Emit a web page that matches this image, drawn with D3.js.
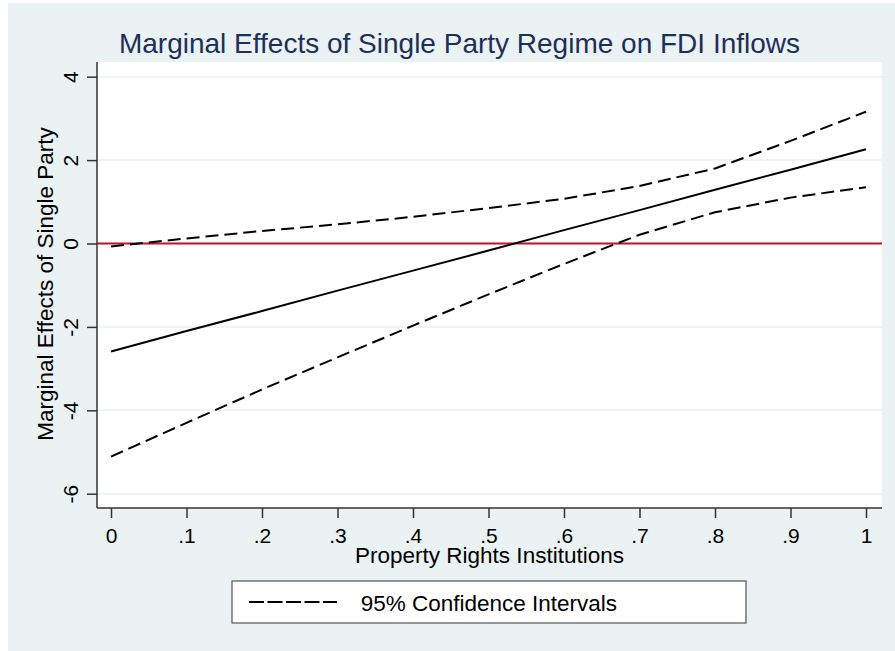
<!DOCTYPE html>
<html>
<head>
<meta charset="utf-8">
<script src="https://cdn.jsdelivr.net/npm/d3@7"></script>
<style>
  body { margin: 0; background: #ffffff; }
  svg { display: block; font-family: "Liberation Sans", Arial, sans-serif; }
</style>
</head>
<body>
<div id="chart"></div>
<script>
// data
const xPoints = [0, .1, .2, .3, .4, .5, .6, .7, .8, .9, 1];
const marginalEffect = [-2.59, -2.10, -1.62, -1.13, -0.65, -0.17, 0.32, 0.80, 1.29, 1.77, 2.26];
const upperCI = [-0.07, 0.12, 0.30, 0.46, 0.64, 0.85, 1.07, 1.38, 1.80, 2.46, 3.16];
const lowerCI = [-5.11, -4.30, -3.50, -2.73, -1.97, -1.22, -0.49, 0.21, 0.75, 1.10, 1.35];
const xTickLabels = ["0", ".1", ".2", ".3", ".4", ".5", ".6", ".7", ".8", ".9", "1"];
const yTicks = [-6, -4, -2, 0, 2, 4];
const yTickLabels = ["-6", "-4", "-2", "0", "2", "4"];

const width = 895;
const height = 651;
const plot = { left: 97, right: 882, top: 62, bottom: 508 };

var svg = d3.select("#chart")
    .append("svg")
    .attr("width", width)
    .attr("height", height);

// graph background
svg.append("rect")
    .attr("x", 8).attr("y", 3)
    .attr("width", width - 8).attr("height", height - 3)
    .style("fill", "#eaf2f3");

// plot region
svg.append("rect")
    .attr("x", plot.left).attr("y", plot.top)
    .attr("width", plot.right - plot.left).attr("height", plot.bottom - plot.top)
    .style("fill", "#ffffff");

var x = d3.scaleLinear().domain([0, 1]).range([111, 866]);
var y = d3.scaleLinear().domain([-6, 4]).range([493.7, 76.7]);

// gridlines
svg.selectAll(".grid")
    .data(yTicks)
    .enter().append("line")
    .attr("class", "grid")
    .attr("x1", plot.left).attr("x2", plot.right)
    .attr("y1", d => y(d)).attr("y2", d => y(d))
    .style("stroke", "#eaf2f3")
    .style("stroke-width", 1.5);

// zero reference line
svg.append("line")
    .attr("x1", plot.left).attr("x2", plot.right)
    .attr("y1", y(0)).attr("y2", y(0))
    .style("stroke", "#c8102e")
    .style("stroke-width", 2);

var line = d3.line()
    .x((d, i) => x(xPoints[i]))
    .y(d => y(d));

svg.append("path")
    .attr("d", line(marginalEffect))
    .style("fill", "none")
    .style("stroke", "#000")
    .style("stroke-width", 2);

[upperCI, lowerCI].forEach(function(s) {
    svg.append("path")
        .attr("d", line(s))
        .style("fill", "none")
        .style("stroke", "#000")
        .style("stroke-width", 2)
        .style("stroke-dasharray", "13,6");
});

// y axis
var yAxis = svg.append("g")
    .attr("transform", "translate(" + plot.left + ",0)")
    .call(d3.axisLeft(y).tickValues(yTicks).tickSize(10).tickFormat((d, i) => yTickLabels[i]));
yAxis.select(".domain").remove();
yAxis.selectAll("line").style("stroke", "#333").style("stroke-width", 1.5);
yAxis.selectAll("text")
    .attr("transform", "rotate(-90)")
    .attr("x", 0).attr("y", -19).attr("dy", 0)
    .style("text-anchor", "middle")
    .style("font-size", "21px")
    .style("fill", "#000");

// x axis
var xAxis = svg.append("g")
    .attr("transform", "translate(0," + plot.bottom + ")")
    .call(d3.axisBottom(x).tickValues(xPoints).tickSize(10).tickFormat((d, i) => xTickLabels[i]));
xAxis.select(".domain").remove();
xAxis.selectAll("line").style("stroke", "#333").style("stroke-width", 1.5);
xAxis.selectAll("text")
    .attr("y", 34.5).attr("dy", 0)
    .style("font-size", "21px")
    .style("fill", "#000");

// axis lines
svg.append("line")
    .attr("x1", plot.left).attr("x2", plot.left)
    .attr("y1", plot.top).attr("y2", plot.bottom)
    .style("stroke", "#333").style("stroke-width", 1.5);
svg.append("line")
    .attr("x1", plot.left).attr("x2", plot.right)
    .attr("y1", plot.bottom).attr("y2", plot.bottom)
    .style("stroke", "#333").style("stroke-width", 1.5);

// titles
svg.append("text")
    .attr("x", 459.5).attr("y", 53)
    .attr("text-anchor", "middle")
    .style("font-size", "28px")
    .style("fill", "#1f2f58")
    .text("Marginal Effects of Single Party Regime on FDI Inflows");

svg.append("text")
    .attr("x", (plot.left + plot.right) / 2).attr("y", 563.3)
    .attr("text-anchor", "middle")
    .style("font-size", "22.5px")
    .text("Property Rights Institutions");

svg.append("text")
    .attr("transform", "translate(53," + 284 + ") rotate(-90)")
    .attr("text-anchor", "middle")
    .style("font-size", "22.5px")
    .text("Marginal Effects of Single Party");

// legend
var legend = svg.append("g");
legend.append("rect")
    .attr("x", 232).attr("y", 581)
    .attr("width", 514).attr("height", 42)
    .style("fill", "#fff")
    .style("stroke", "#555")
    .style("stroke-width", 1.2);
legend.append("line")
    .attr("x1", 249).attr("x2", 337)
    .attr("y1", 602).attr("y2", 602)
    .style("stroke", "#000")
    .style("stroke-width", 2)
    .style("stroke-dasharray", "15,3.5");
legend.append("text")
    .attr("x", 360.7).attr("y", 610.7)
    .style("font-size", "22.5px")
    .text("95% Confidence Intervals");
</script>
</body>
</html>
